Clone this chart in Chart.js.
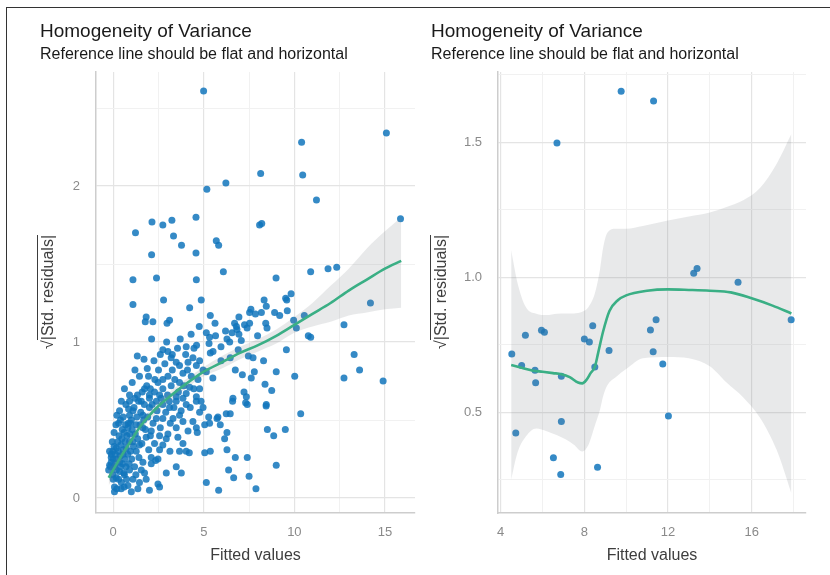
<!DOCTYPE html>
<html lang="en">
<head>
<meta charset="UTF-8">
<title>Homogeneity of Variance</title>
<script src="https://cdn.jsdelivr.net/npm/chart.js"></script>
<style>
    body { margin: 0; width: 830px; height: 575px; background: #fff; position: relative; overflow: hidden;
           font-family: "Liberation Sans", Arial, sans-serif; }
    .frame { position: absolute; left: 6px; top: 7px; width: 840px; height: 600px;
             border-top: 1.5px solid #333; border-left: 1.5px solid #333; }
    canvas { position: absolute; top: 0; }
    .title { position: absolute; top: 21px; font-size: 19px; line-height: 19px; color: #1a1a1a; white-space: nowrap; }
    .subtitle { position: absolute; top: 46px; font-size: 16px; line-height: 16px; color: #1a1a1a; white-space: nowrap; }
    .ytitle { position: absolute; top: 292px; font-size: 16px; line-height: 18px; color: #3d3d3d; white-space: nowrap;
              transform: translate(-50%, -50%) rotate(-90deg); }
    .ytitle .ov { border-top: 1px solid #3d3d3d; padding-top: 1px; }
</style>
</head>
<body>
<div class="frame"></div>
<canvas id="leftChart" width="420" height="575" style="left:0"></canvas>
<canvas id="rightChart" width="410" height="575" style="left:420px"></canvas>

<div class="title" style="left:40px">Homogeneity of Variance</div>
<div class="subtitle" style="left:40px">Reference line should be flat and horizontal</div>
<div class="title" style="left:431px">Homogeneity of Variance</div>
<div class="subtitle" style="left:431px">Reference line should be flat and horizontal</div>
<div class="ytitle" style="left:48px">√<span class="ov">|Std. residuals|</span></div>
<div class="ytitle" style="left:441px">√<span class="ov">|Std. residuals|</span></div>

<script>
    // ---- left panel: [fitted, sqrt|std resid|]
    const leftPoints = [
        [4.99,2.61],[15.08,2.34],[10.4,2.28],[8.14,2.08],[10.46,2.07],[6.22,2.02],[5.17,1.98],[11.22,1.91],[15.86,1.79],
        [1.23,1.70],[2.14,1.77],[2.74,1.75],[3.24,1.78],[4.57,1.80],[3.33,1.68],[3.77,1.62],[2.12,1.56],[4.57,1.57],
        [5.69,1.65],[5.82,1.62],[8.08,1.75],[8.2,1.76],[1.09,1.40],[2.39,1.41],[4.59,1.40],[6.08,1.45],[8.99,1.41],
        [10.9,1.45],[11.86,1.47],[12.34,1.48],
        [14.2,1.25],[12.74,1.11],[13.3,0.92],[13.6,0.82],[12.74,0.77],[14.9,0.75],[10.02,0.78],[9.0,0.81],[9.56,0.95],
        [10.77,1.04],[10.9,1.03],[10.55,1.17],[9.96,1.14],[10.11,1.09],[10.35,0.54],
        [9.82,1.31],[9.52,1.28],[9.58,1.27],[8.33,1.27],[7.6,1.21],[7.53,1.19],[7.85,1.18],[8.18,1.19],[8.45,1.23],
        [8.91,1.19],[9.19,1.17],[9.61,1.20],[6.94,1.16],[5.36,1.17],[5.62,1.12],[6.7,1.12],[7.25,1.11],[7.53,1.12],
        [7.39,1.09],[8.42,1.12],[8.49,1.09],[6.8,1.10],[6.83,1.08],[6.2,1.07],[6.56,1.06],[6.94,1.05],[5.14,1.06],
        [5.32,1.03],[5.65,1.04],[6.28,1.02],[6.43,1.00],[7.97,1.04],[7.07,1.01],[5.95,0.97],[5.29,0.99],[5.36,0.93],
        [5.51,0.94],[6.9,0.95],[7.46,0.91],[7.72,0.90],[8.3,0.88],[5.95,0.88],[6.46,0.90],[6.74,0.82],[7.13,0.79],
        [7.79,0.81],[7.62,0.77],[5.14,0.81],[5.5,0.77],[8.38,0.73],[8.75,0.69],[7.22,0.68],[7.35,0.65],[6.61,0.64],
        [1.09,1.24],[2.78,1.27],[4.22,1.22],[4.86,1.27],[1.82,1.16],[1.77,1.13],[2.19,1.13],[3.11,1.14],[2.97,1.12],
        [2.12,1.02],[1.33,0.91],[1.7,0.89],[1.88,0.83],[1.95,0.78],[1.73,0.70],[0.9,0.66],[1.34,0.66],[2.74,0.95],
        [3.02,0.94],[3.26,0.92],[4.03,0.97],[4.46,0.96],[4.0,0.92],[3.48,0.87],[3.66,0.85],[4.13,0.87],[4.4,0.90],
        [4.77,0.88],[4.59,0.85],[3.26,0.82],[3.02,0.78],[2.74,0.76],[2.47,0.74],[3.85,0.80],[4.31,0.78],[4.68,0.76],
        [4.96,0.82],[2.74,0.70],[2.28,0.68],[3.2,0.72],[3.66,0.74],[4.22,0.71],[4.77,0.70],[2.0,0.66],[2.56,0.66],
        [4.03,0.67],[4.59,0.65],[3.48,0.65],
        [0.35,0.56],[0.2,0.53],[0.9,0.62],[0.9,0.53],[1.09,0.56],[0.68,0.47],[0.5,0.44],[0.81,0.45],[1.27,0.47],
        [1.64,0.53],[2.0,0.58],[2.0,0.64],[1.55,0.62],[2.38,0.62],[2.74,0.60],[3.11,0.58],[3.48,0.62],[3.85,0.64],
        [4.03,0.60],[4.59,0.62],[4.96,0.58],[4.77,0.55],[3.66,0.53],[3.3,0.51],[2.74,0.51],[2.38,0.51],[3.85,0.49],
        [4.4,0.49],[4.59,0.45],[4.13,0.43],[3.48,0.45],[3.02,0.41],[3.57,0.39],[2.93,0.38],[2.56,0.40],[2.1,0.43],
        [1.82,0.39],[1.64,0.45],[2.28,0.35],[2.74,0.34],[3.85,0.35],[3.66,0.30],[4.03,0.30],[5.05,0.29],[2.56,0.31],
        [2.1,0.26],[2.47,0.25],[2.1,0.22],[2.93,0.16],[3.48,0.20],[3.76,0.16],[1.64,0.23],[1.27,0.30],[1.45,0.34],
        [1.09,0.36],[0.17,0.32],[-0.02,0.30],[-0.11,0.26],[-0.11,0.23],[-0.2,0.21],[0.07,0.20],[0.35,0.23],[0.54,0.28],
        [0.72,0.32],[0.9,0.36],[-0.02,0.15],[0.17,0.13],[0.35,0.17],[0.62,0.15],[0.9,0.18],[1.09,0.12],[1.45,0.10],
        [1.82,0.12],[1.73,0.16],[0.07,0.07],[0.07,0.04],[0.44,0.06],[0.81,0.08],[1.36,0.06],[2.0,0.05],[2.56,0.07],
        [2.47,0.09],[5.14,0.10],
        [5.36,0.30],[5.82,0.05],[6.37,0.18],[6.65,0.13],[6.74,0.26],[6.28,0.31],[6.15,0.38],[6.28,0.42],[7.4,0.26],
        [7.5,0.14],[7.88,0.06],[9.0,0.21],[8.51,0.44],[8.86,0.40],[9.5,0.44],[8.44,0.59],[7.4,0.60],[6.59,0.62],
        [6.46,0.54],[6.24,0.54],[5.78,0.52],[5.91,0.47],[5.27,0.52],[5.05,0.47],[4.64,0.42],[4.2,0.29],[3.13,0.30],
        [2.34,0.24],[7.31,0.61],[8.45,0.60],[5.73,0.51],[5.32,0.48],
        [-0.25,0.18],[-0.15,0.20],[-0.1,0.28],[0.0,0.25],[0.05,0.33],[0.1,0.22],[0.12,0.28],[0.18,0.18],[0.22,0.25],
        [0.25,0.36],[0.28,0.30],[0.3,0.12],[0.32,0.40],[0.38,0.27],[0.4,0.20],[0.42,0.34],[0.45,0.10],[0.48,0.38],
        [0.52,0.22],[0.55,0.31],[0.58,0.16],[0.6,0.42],[0.63,0.25],[0.66,0.36],[0.7,0.20],[0.74,0.12],[0.76,0.40],
        [0.8,0.28],[0.84,0.48],[0.88,0.22],[0.92,0.41],[0.95,0.30],[1.0,0.50],[1.02,0.25],[1.05,0.44],[1.12,0.33],
        [1.15,0.58],[1.18,0.20],[1.22,0.41],[1.3,0.52],[1.35,0.38],[1.4,0.62],[1.42,0.26],[1.48,0.47],[1.52,0.55],
        [1.58,0.35],[1.6,0.68],[1.68,0.50],[1.72,0.60],[1.78,0.44],[1.85,0.72],[1.9,0.52],[1.96,0.31],[2.05,0.70],
        [2.15,0.60],[2.2,0.48],[2.3,0.76],[2.42,0.56],[2.5,0.82],[2.6,0.45],[2.65,0.64],[2.85,0.86],[2.9,0.55],
        [3.0,0.66],[3.15,0.48],[3.2,0.90],[3.35,0.58],[3.4,0.76],[3.55,0.96],[3.6,0.68],[3.75,0.56],[3.9,0.72],
        [4.1,0.82],[4.25,0.58],[4.45,0.70],[4.6,0.98],[4.85,0.62],[0.05,0.42],[-0.05,0.36],[0.15,0.47],[-0.2,0.30],
        [0.3,0.48],[0.55,0.52],[0.0,0.12],[0.2,0.06],[0.6,0.07],[1.0,0.04],[1.25,0.15],[1.55,0.18],[0.85,0.57],[0.7,0.60],
        [0.45,0.62],[0.62,0.70],[1.05,0.74],[1.2,0.82],[1.45,0.78],[2.25,0.88],[2.6,0.92],[2.95,1.00],[3.7,1.02],
        [4.3,1.05],[4.75,1.10],[3.1,0.62],[2.05,0.40],[1.2,0.64],[0.95,0.48],[0.4,0.50]
    ];
    const leftSmoothX    = [-0.25, 0.5, 1, 1.5, 2, 2.5, 3, 4, 5, 6, 7, 8, 9, 10, 11, 12, 13, 14, 15, 15.9];
    const leftSmoothY    = [0.13, 0.28, 0.37, 0.46, 0.53, 0.59, 0.64, 0.73, 0.81, 0.87, 0.93, 0.98, 1.04, 1.11, 1.18, 1.25, 1.33, 1.40, 1.47, 1.52];
    const leftBandHigh   = [0.18, 0.31, 0.40, 0.49, 0.56, 0.62, 0.67, 0.76, 0.84, 0.91, 0.97, 1.02, 1.08, 1.16, 1.25, 1.36, 1.47, 1.60, 1.71, 1.80];
    const leftBandLow    = [0.08, 0.25, 0.34, 0.43, 0.50, 0.56, 0.61, 0.70, 0.78, 0.83, 0.89, 0.94, 0.99, 1.06, 1.10, 1.13, 1.17, 1.19, 1.21, 1.22];
    const leftXMajor = [0, 5, 10, 15];
    const leftXMinor = [2.5, 7.5, 12.5];
    const leftYMajor = [0, 1, 2];
    const leftYMinor = [0.5, 1.5, 2.5];

    // ---- right panel
    const rightPoints = [
        [9.76,1.689],[11.31,1.653],[6.69,1.497],
        [4.53,0.716],[5.0,0.673],[5.18,0.785],[5.64,0.656],[5.95,0.804],[6.09,0.796],[6.9,0.633],[8.0,0.771],
        [8.24,0.76],[8.4,0.82],[8.5,0.668],[9.18,0.729],[11.16,0.805],[11.29,0.724],[11.43,0.843],[11.75,0.679],
        [13.23,1.015],[13.39,1.032],[15.35,0.981],[17.89,0.843],
        [5.67,0.609],[4.72,0.423],[6.9,0.466],[6.52,0.332],[6.87,0.270],[8.63,0.296],[12.02,0.486]
    ];
    const rightSmoothX = [4.5, 5, 5.5, 6, 6.5, 6.9, 7.3, 7.7, 7.9, 8.1, 8.3, 8.5, 8.66, 8.9, 9.2, 9.6, 10, 11, 12, 13, 14, 15, 16, 17, 17.9];
    const rightSmoothY = [0.675, 0.665, 0.655, 0.65, 0.645, 0.641, 0.63, 0.61, 0.607, 0.62, 0.645, 0.668, 0.72, 0.80, 0.875, 0.915, 0.933, 0.95, 0.955, 0.953, 0.95, 0.944, 0.922, 0.895, 0.866];
    const rightBandX    = [4.5, 4.8, 5.2, 5.7, 6.2, 6.7, 7.1, 7.5, 7.9, 8.2, 8.5, 8.75, 8.9, 9.1, 9.5, 10, 10.8, 12, 13, 14, 14.8, 15.6, 16.4, 17.2, 17.9];
    const rightBandHigh = [1.10, 0.98, 0.89, 0.865, 0.86, 0.865, 0.866, 0.866, 0.872, 0.89, 0.94, 1.03, 1.11, 1.165, 1.18, 1.18, 1.19, 1.21, 1.225, 1.24, 1.26, 1.285, 1.33, 1.42, 1.53];
    const rightBandLow  = [0.25, 0.35, 0.41, 0.44, 0.43, 0.415, 0.40, 0.38, 0.355, 0.38, 0.45, 0.51, 0.56, 0.60, 0.63, 0.66, 0.70, 0.705, 0.70, 0.67, 0.61, 0.555, 0.48, 0.36, 0.20];
    const rightXMajor = [4, 8, 12, 16];
    const rightXMinor = [6, 10, 14, 18];
    const rightYMajor = [0.5, 1.0, 1.5];
    const rightYMinor = [0.25, 0.75, 1.25, 1.75];

    Chart.defaults.font.family = '"Liberation Sans", Arial, sans-serif';
    Chart.defaults.animation = false;

    const pointColor = 'rgba(18,118,188,0.85)';
    const lineColor = '#3aaf85';
    const bandColor = 'rgba(120,125,130,0.17)';

    function toXY(xs, ys) {
        return xs.map((x, i) => ({ x: x, y: ys[i] }));
    }

    function axis(major, minor, min, max, fmt, extra) {
        const all = major.concat(minor).sort((a, b) => a - b);
        return Object.assign({
            type: 'linear',
            min: min,
            max: max,
            afterBuildTicks: s => { s.ticks = all.map(v => ({ value: v })); },
            grid: {
                drawTicks: false,
                color: ctx => (ctx.tick && major.includes(ctx.tick.value)) ? '#e4e4e4' : '#f1f1f1',
                lineWidth: ctx => (ctx.tick && major.includes(ctx.tick.value)) ? 1.2 : 1
            },
            border: { display: true, color: '#cdcdcd', width: 1.5 },
            ticks: {
                autoSkip: false,
                maxRotation: 0,
                color: '#8a8a8a',
                font: { size: 13 },
                callback: v => major.includes(v) ? fmt(v) : ''
            }
        }, extra);
    }

    function drawPanel(id, p) {
        const x = axis(p.xMajor, p.xMinor, p.xMin, p.xMax, p.xFmt, {
            afterFit: s => { s.height = 62; },
            title: { display: true, text: 'Fitted values', color: '#3d3d3d', font: { size: 16 }, padding: { top: 0, bottom: 10 } }
        });
        x.ticks.padding = 12;
        const y = axis(p.yMajor, p.yMinor, p.yMin, p.yMax, p.yFmt, {
            afterFit: s => { s.width = p.yWidth; }
        });
        y.ticks.padding = 16;

        return new Chart(document.getElementById(id), {
            type: 'scatter',
            data: {
                datasets: [
                    { data: p.points.map(d => ({ x: d[0], y: d[1] })), backgroundColor: pointColor,
                      pointRadius: 3.5, borderWidth: 0, order: 3 },
                    { data: toXY(p.bandX, p.bandHigh), showLine: true, pointRadius: 0, borderWidth: 0,
                      borderColor: 'transparent', backgroundColor: bandColor, fill: '+1',
                      cubicInterpolationMode: 'monotone', order: 2 },
                    { data: toXY(p.bandX, p.bandLow), showLine: true, pointRadius: 0, borderWidth: 0,
                      borderColor: 'transparent', fill: false, cubicInterpolationMode: 'monotone', order: 2 },
                    { data: toXY(p.lineX, p.lineY), showLine: true, pointRadius: 0, borderColor: lineColor,
                      borderWidth: 2.6, fill: false, cubicInterpolationMode: 'monotone', order: 1 }
                ]
            },
            options: {
                responsive: false,
                layout: { padding: { top: 72, right: p.padRight, left: 0, bottom: 0 } },
                plugins: { legend: { display: false }, tooltip: { enabled: false } },
                scales: { x: x, y: y }
            }
        });
    }

    drawPanel('leftChart', {
        points: leftPoints,
        lineX: leftSmoothX, lineY: leftSmoothY,
        bandX: leftSmoothX, bandHigh: leftBandHigh, bandLow: leftBandLow,
        xMajor: leftXMajor, xMinor: leftXMinor, xMin: -0.95, xMax: 16.66, xFmt: v => String(v),
        yMajor: leftYMajor, yMinor: leftYMinor, yMin: -0.096, yMax: 2.731, yFmt: v => String(v),
        yWidth: 96, padRight: 5
    });

    drawPanel('rightChart', {
        points: rightPoints,
        lineX: rightSmoothX, lineY: rightSmoothY,
        bandX: rightBandX, bandHigh: rightBandHigh, bandLow: rightBandLow,
        xMajor: rightXMajor, xMinor: rightXMinor, xMin: 3.87, xMax: 18.6, xFmt: v => String(v),
        yMajor: rightYMajor, yMinor: rightYMinor, yMin: 0.127, yMax: 1.76, yFmt: v => v.toFixed(1),
        yWidth: 78, padRight: 24
    });
</script>
</body>
</html>
